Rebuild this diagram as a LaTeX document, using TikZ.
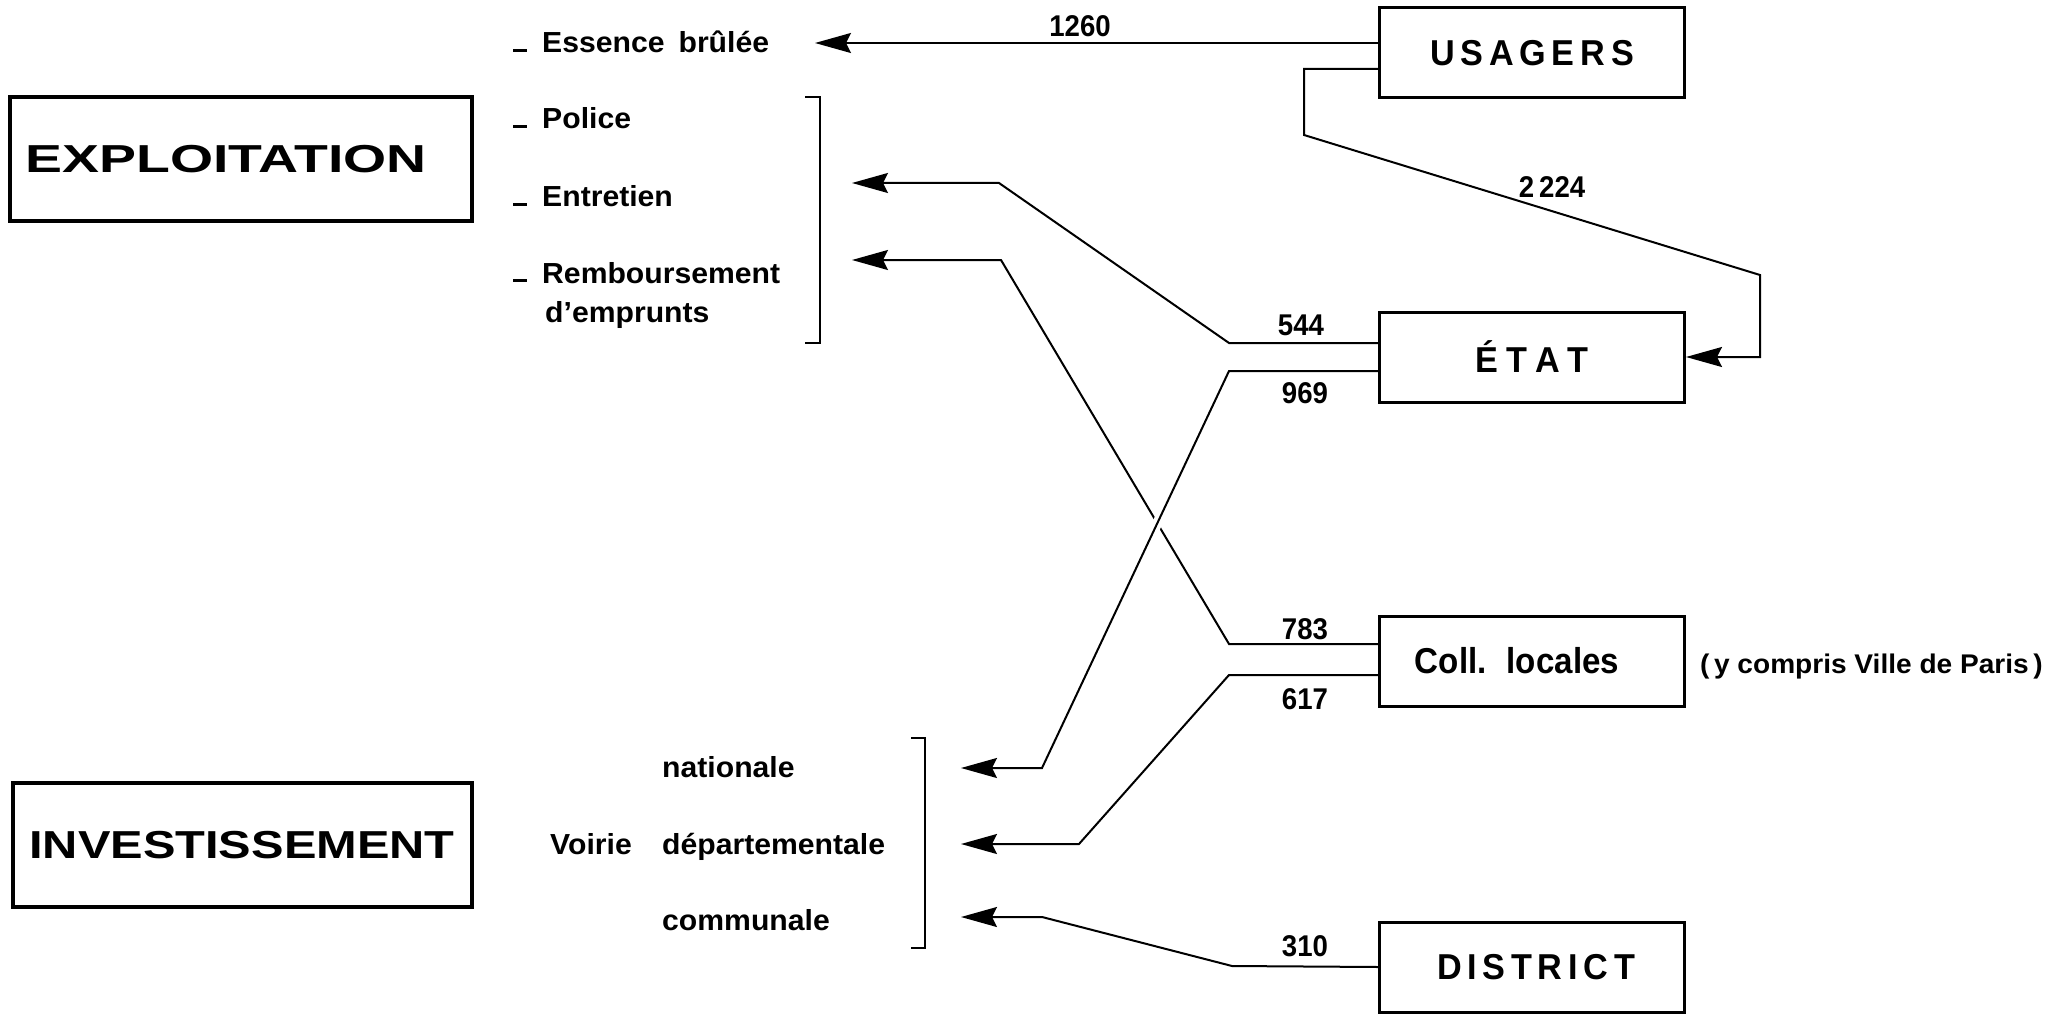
\documentclass[tikz,border=0pt]{standalone}
\usepackage{fontspec}
\setmainfont{Liberation Sans}
\newfontfamily\lab[FakeStretch=1.04]{Liberation Sans}
\newfontfamily\cond[FakeStretch=0.92]{Liberation Sans}
\newfontfamily\condsp[FakeStretch=0.95,LetterSpace=16]{Liberation Sans}
\newfontfamily\wideA[FakeStretch=1.42]{Liberation Sans}
\newfontfamily\wideB[FakeStretch=1.25]{Liberation Sans}
\usetikzlibrary{arrows.meta}
\begin{document}
\begin{tikzpicture}[x=1pt,y=-1pt,
  box/.style={draw, line width=3pt, minimum width=305pt, minimum height=90pt, inner sep=0pt},
  bigbox/.style={draw, line width=4pt, minimum width=462pt, minimum height=124pt, inner sep=0pt},
  spaced/.style={font=\condsp\bfseries\fontsize{36}{36}\selectfont},
  lbl/.style={anchor=base west, inner sep=0pt, font=\lab\bfseries\fontsize{29}{29}\selectfont},
  num/.style={inner sep=0pt, font=\cond\bfseries\fontsize{30}{30}\selectfont},
  conn/.style={line width=2pt, line join=miter},
  arr/.style={conn, -{Stealth[length=36pt,width=20pt,inset=5pt]}},
  brk/.style={line width=2.2pt}]
\useasboundingbox (0,0) rectangle (2055,1019);
\fill[white] (0,0) rectangle (2055,1019);

% big boxes
\node[bigbox, font=\wideA\bfseries\fontsize{39}{39}\selectfont] (expl) at (241,159) {EXPLOITATION\hspace*{30pt}};
\node[bigbox, minimum width=459pt, font=\wideB\bfseries\fontsize{39}{39}\selectfont] (inv) at (242,845) {INVESTISSEMENT};

% actor boxes
\node[box, spaced] (usagers) at (1532,53) {USAGERS};
\node[box, spaced] (etat) at (1532,357) {É\hspace{8pt}T\hspace{8pt}A\hspace{8pt}T};
\node[box, font=\cond\bfseries\fontsize{36}{36}\selectfont] (coll) at (1532,661) {Coll.\hspace{20pt}locales\hspace*{30pt}};
\node[box, spaced] (district) at (1532,967) {DISTRICT\hspace*{-8pt}};
\node[anchor=west, inner sep=0pt, font=\lab\bfseries\fontsize{27}{27}\selectfont] (paris) at (1700,667) {(\,y compris Ville de Paris\,)};

% left-hand labels
\newcommand{\dashmark}{\rule[1pt]{14pt}{3pt}\hspace{15pt}}
\node[lbl] (essence) at (513,53) {\dashmark Essence\hspace{14pt}brûlée};
\node[lbl] (police) at (513,129) {\dashmark Police};
\node[lbl] (entretien) at (513,207) {\dashmark Entretien};
\node[lbl] (rembt) at (513,283) {\dashmark Remboursement};
\node[lbl] (emprunts) at (545,322) {d’emprunts};
\node[lbl] (nationale) at (662,777) {nationale};
\node[lbl] (voirie) at (550,854) {Voirie};
\node[lbl] (depart) at (662,854) {départementale};
\node[lbl] (communale) at (662,930) {communale};

% brackets
\draw[brk] (805,97) -- (820,97) -- (820,343) -- (805,343);
\draw[brk] (911,738) -- (925,738) -- (925,948) -- (911,948);

% arrow tips (free ends)
\coordinate (tEss) at (815,43);
\coordinate (tEnt) at (852,183);
\coordinate (tRem) at (852,260);
\coordinate (tNat) at (961,768);
\coordinate (tDep) at (961,844);
\coordinate (tCom) at (961,917);

% connectors
\draw[arr] (usagers.west |- tEss) -- (tEss);
\node[num] (n1260) at (1080,26) {1260};
\draw[arr] ([yshift=-16pt]usagers.west) -| (1304,135) -- (1760,275) |- (etat.east);
\node[num] (n2224) at (1552,187) {2\,224};
\draw[arr] ([yshift=14pt]etat.west) -- (1229,343) -- (999,183) -- (tEnt);
\node[num] (n544) at (1301,325) {544};
\draw[arr] ([yshift=17pt]coll.west) -- (1229,644) -- (1001,260) -- (tRem);
\node[num] (n783) at (1305,629) {783};
\draw[arr, preaction={draw=white, line width=10pt, -, shorten <=40pt, shorten >=40pt}]
  ([yshift=-14pt]etat.west) -- (1229,371) -- (1042,768) -- (tNat);
\node[num] (n969) at (1305,393) {969};
\draw[arr] ([yshift=-14pt]coll.west) -- (1229,675) -- (1079,844) -- (tDep);
\node[num] (n617) at (1305,699) {617};
\draw[arr] (district.west) -- (1232,966) -- (1042,917) -- (tCom);
\node[num] (n310) at (1305,946) {310};
\end{tikzpicture}
\end{document}
